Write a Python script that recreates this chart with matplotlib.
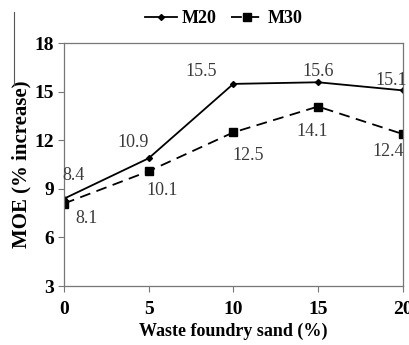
import matplotlib
matplotlib.use("Agg")
import matplotlib.pyplot as plt
from matplotlib.lines import Line2D

sand = [0, 5, 10, 15, 20]
m20 = [8.4, 10.9, 15.5, 15.6, 15.1]
m30 = [8.1, 10.1, 12.5, 14.1, 12.4]
# label offsets in points (dx, dy)
m20_off = [(6.5, 17), (-11.5, 11), (-23.5, 9), (0, 8), (-8, 7)]
m30_off = [(16.5, -10.5), (10, -14), (11, -16.5), (-4, -18), (-10.5, -12.5)]

plt.rcParams['font.family'] = ['Liberation Serif', 'DejaVu Serif']

fig = plt.figure(figsize=(4.09, 3.45), dpi=100)
ax = fig.add_axes([0.1565, 0.171, 0.828, 0.703])

ax.plot(sand, m20, color='black', lw=1.3, marker='D', ms=3, label='M20')
ax.plot(sand, m30, color='black', lw=1.3, ls=(0, (6, 3.6)), marker='s', ms=5.5, label='M30')

for x, y, (dx, dy) in zip(sand, m20, m20_off):
    ax.annotate(f"{y}", (x, y), xytext=(dx, dy), textcoords='offset points',
                ha='center', va='center', fontsize=13, color='#3a3a3a', annotation_clip=False)
for x, y, (dx, dy) in zip(sand, m30, m30_off):
    ax.annotate(f"{y}", (x, y), xytext=(dx, dy), textcoords='offset points',
                ha='center', va='center', fontsize=13, color='#3a3a3a', annotation_clip=False)

ax.set_xlim(0, 20)
ax.set_ylim(3, 18)
ax.set_xticks([0, 5, 10, 15, 20])
ax.set_yticks([3, 6, 9, 12, 15, 18])
ax.tick_params(direction='out', length=4, width=0.8, color='#777777', labelsize=14)
ax.tick_params(axis='x', pad=7)
ax.tick_params(axis='y', pad=3)
for lab in ax.get_xticklabels() + ax.get_yticklabels():
    lab.set_fontweight('bold')
for s in ax.spines.values():
    s.set_color('#777777')
    s.set_linewidth(0.9)

ax.set_xlabel('Waste foundry sand (%)', fontsize=13, fontweight='bold', labelpad=3)
ax.set_ylabel('MOE (% increase)', fontsize=15, fontweight='bold', labelpad=2)

fig.legend(loc='center', bbox_to_anchor=(0.547, 0.945), ncol=2, frameon=False,
           prop={'weight': 'bold', 'size': 13}, handlelength=1.8, handletextpad=0.25,
           columnspacing=0.8)

fig.add_artist(Line2D([14 / 409, 14 / 409], [1 - 12 / 345, 1 - 85 / 345], color='#555555', lw=0.8))

fig.savefig('out.png', dpi=100)
